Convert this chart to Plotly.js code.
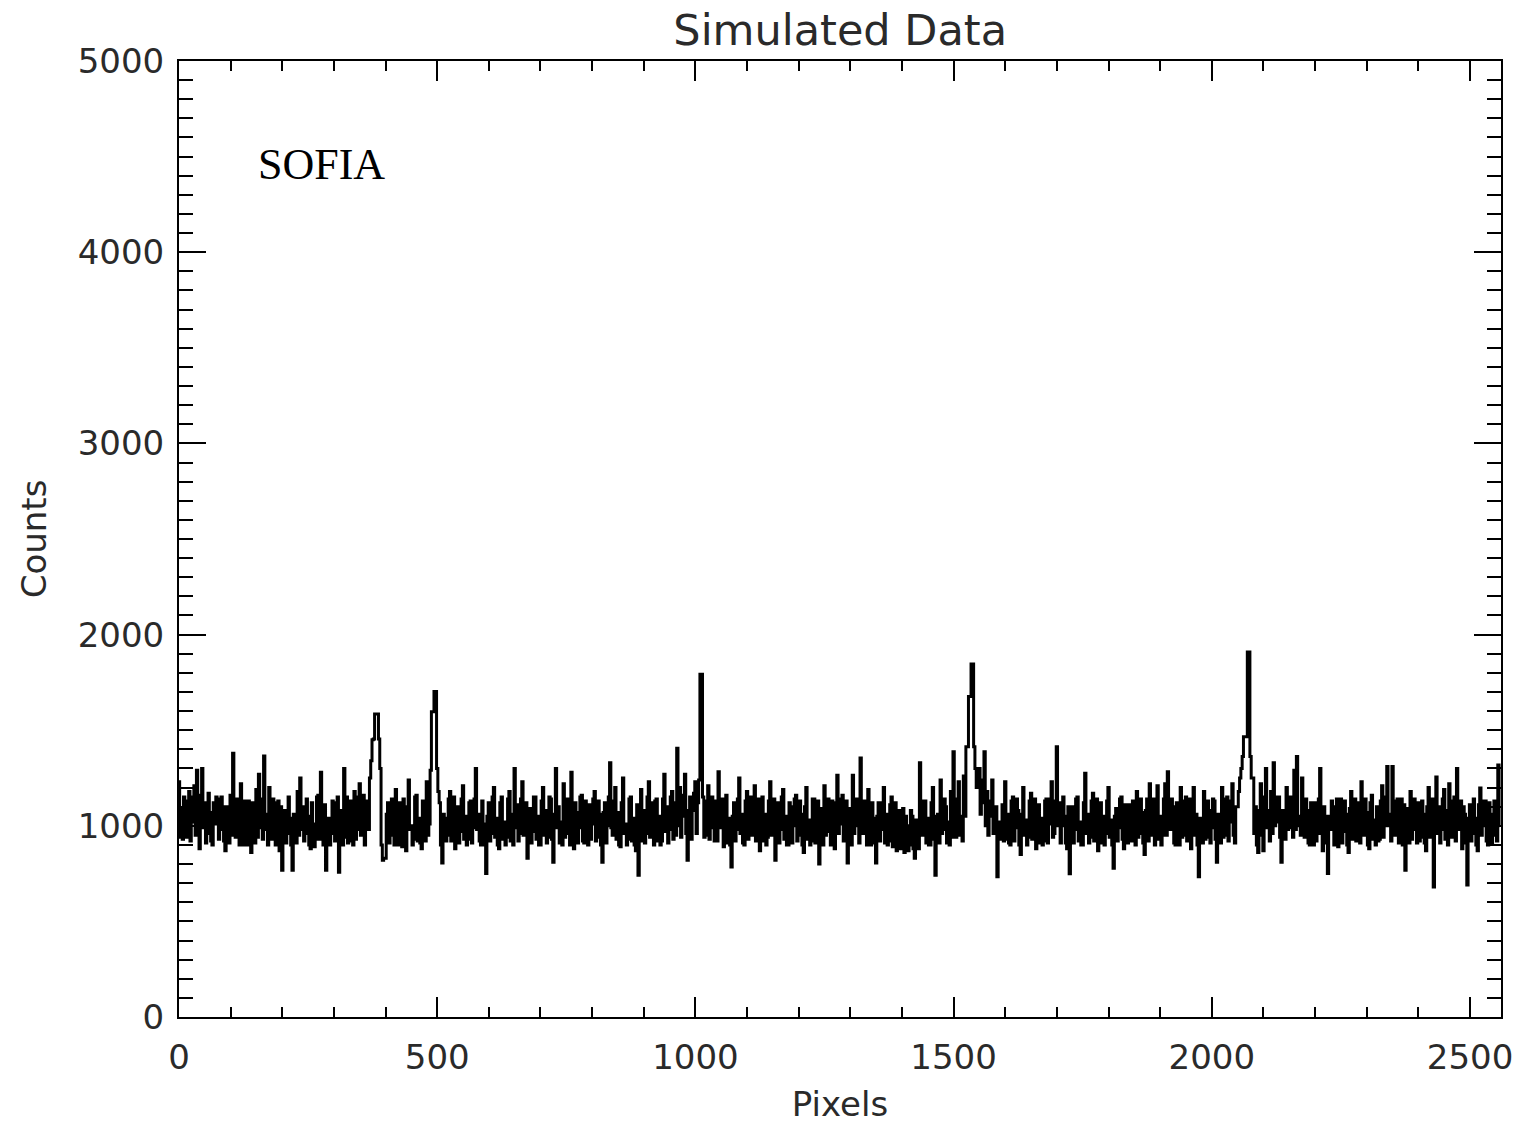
<!DOCTYPE html>
<html>
<head>
<meta charset="utf-8">
<script src="https://cdn.plot.ly/plotly-3.0.1.min.js"></script>
<style>html,body{margin:0;padding:0;background:#fff;}#chart{width:1524px;height:1124px;}</style>
</head>
<body>
<div id="chart"></div>
<script>
// Counts, one value per 2.5 detector pixels (0 .. 2557.5)
const counts = [
1230,940,1090,930,1150,960,940,1130,1180,920,1020,1150,1210,950,1290,980,880,1160,1300,990,1120,910,960,1170,1070,920,900,1120,1010,1150,1140,930,
980,1150,1100,920,870,1100,1050,910,1160,950,1380,1000,940,1140,1010,900,1220,960,900,1130,1080,900,1130,950,860,1120,1040,910,1190,940,1270,990,
1140,930,1365,980,1060,900,1200,940,930,1140,1120,900,1010,1130,870,1100,768,1050,1080,910,960,1150,1040,900,768,1060,1020,910,1180,950,1250,980,
1100,920,960,1140,1050,900,880,1120,1010,890,930,1150,1160,930,1280,980,900,1110,768,1020,1040,900,960,1130,1120,920,990,1150,757,1030,1080,900,
1300,940,1150,910,920,1130,1050,900,1180,930,980,1150,1220,950,1060,1160,900,1110,1130,980,1250,1340,1450,1454,1585,1585,1585,1454,1300,900,820,830,
830,1060,1120,910,950,1140,1060,900,1190,940,900,1120,1010,890,1140,930,870,1100,1240,980,1000,900,930,1150,1160,920,1040,910,880,1130,1090,920,
1230,950,1010,1290,1597,1597,1702,1702,1300,1180,1120,900,805,1060,1040,920,950,1140,1180,920,1010,1150,880,1100,1100,910,970,1140,1210,930,1050,900,
930,1120,1130,910,990,1140,1300,980,1060,920,900,1130,1010,900,750,1050,1120,920,960,1150,1200,940,1040,900,880,1120,1150,930,1020,900,940,1140,
1180,920,1060,900,1300,990,1110,920,960,1140,1230,950,1010,1120,830,1060,1090,910,970,1150,1150,930,1050,900,900,1130,1200,950,1080,910,940,1150,
1140,930,810,1060,1300,990,1100,910,1020,900,1220,940,960,1140,1050,900,1280,960,880,1120,1070,910,990,1150,1160,920,910,1130,1040,900,1110,930,
1010,1140,1180,920,940,1130,1060,900,810,1070,1120,910,1000,1150,1330,990,950,1130,1200,930,1070,900,890,1120,1250,960,1010,900,930,1140,1150,920,
1040,900,870,1110,742,1040,1190,920,1080,910,960,1150,1230,940,1010,1120,900,1130,1140,920,1050,900,920,1140,1270,970,1100,910,980,1150,1180,930,
1120,950,1405,1000,1200,940,1050,1160,1270,960,820,1080,1150,930,1080,1170,1230,960,1120,1240,1793,1793,1150,940,950,1130,1210,930,1060,1150,990,920,
1130,920,1283,990,1010,1140,890,1110,1160,910,1040,900,785,1050,1120,920,980,1140,1250,960,1060,910,900,1130,1180,930,1020,1150,950,1120,1210,920,
1000,1140,870,1100,1150,920,1060,900,940,1130,1230,950,1010,1140,820,1060,1120,910,980,1150,1190,930,1050,900,900,1120,1100,910,1000,1140,1160,920,
950,1130,1060,900,860,1100,1200,930,1030,900,920,1140,1140,910,1010,1130,800,1050,1090,900,1210,950,970,1140,1050,900,1130,920,880,1120,1265,960,
1010,1140,1160,920,940,1130,805,1060,1090,900,1265,960,1000,1140,1120,910,1355,980,960,1130,1070,900,1190,930,900,1120,1040,910,805,1050,1120,920,
980,1120,1200,910,1060,900,920,1110,1150,890,1010,1120,870,1080,1080,880,940,1090,860,1050,1000,870,900,1080,1050,880,830,1030,970,880,1330,960,
950,1130,1130,910,1040,900,900,1120,1200,930,742,1050,1060,910,1240,960,980,1140,1100,910,1020,900,1180,940,1387,1000,940,1140,1230,950,1050,920,
1260,1050,1414,1414,1676,1676,1846,1846,1414,1300,1200,1250,1300,1060,1120,1240,1387,1000,1180,950,1050,1130,1240,960,960,1100,733,990,1020,930,1110,920,
1230,930,1060,910,900,1130,1150,920,990,1140,1080,900,850,1060,1200,950,1030,900,940,1130,1170,930,1000,1140,880,1100,1110,910,1040,900,920,1130,
1140,910,1010,1140,1230,940,960,1130,1413,1000,1120,910,1000,1150,1050,910,880,1100,749,1060,1100,910,980,1140,1150,920,1020,900,900,1120,1275,960,
1060,910,940,1130,1170,920,1010,1140,870,1100,1120,910,1050,900,960,1130,1200,940,1030,900,778,1050,1090,920,990,1140,1150,930,880,1110,1040,910,
1110,920,920,1130,1020,900,1180,940,960,1140,1070,910,850,1080,1140,920,1220,950,1000,1140,900,1120,1210,930,1050,900,950,1140,1220,950,1283,1000,
980,1140,1100,910,900,1120,1050,900,1200,940,950,1130,1150,920,1010,1140,880,1100,1200,950,1060,900,733,1040,1020,910,1180,930,940,1130,1080,910,
990,1140,1130,930,810,1060,1060,910,1200,940,950,1140,1150,920,1020,1130,1220,950,910,1100,1100,1180,1250,1300,1362,1466,1466,1466,1909,1909,1362,1250,
1250,960,1100,900,860,1080,1220,950,870,1150,1300,990,1080,920,1180,960,1330,1000,1020,1150,1150,940,810,1080,1060,930,1200,980,990,1150,1120,940,
1290,980,1362,1000,1050,950,1250,960,940,1140,1080,910,900,1120,1010,900,1120,920,960,1140,1300,960,870,1100,1050,910,750,1050,980,1130,1100,900,
1010,1140,890,1110,1140,910,970,1130,1060,900,860,1090,1180,930,1000,1140,920,1120,1120,910,1230,950,950,1140,1070,900,880,1120,1160,930,1030,900,
1100,920,930,1130,1210,940,1000,1150,1310,1000,1060,920,1310,990,950,1130,1140,910,1020,1140,900,1110,768,1040,1090,910,1180,930,980,1140,1050,910,
1120,920,940,1130,1060,910,870,1100,1200,940,1010,1140,680,1050,1255,960,1100,910,980,1140,1190,930,1080,900,1220,950,940,1130,1150,920,1300,980,
1010,1130,880,1100,1060,910,690,1040,1110,920,960,1140,1040,900,870,1110,1198,950,1000,1130,1130,920,900,1120,1060,910,950,1130,1090,920,1318,1000
];
const binWidth = 2.5;
const pixels = counts.map((c, i) => i * binWidth);

const xTickVals = [0, 500, 1000, 1500, 2000, 2500];
const yTickVals = [0, 1000, 2000, 3000, 4000, 5000];
const titleText = 'Simulated Data';
const xTitle = 'Pixels';
const yTitle = 'Counts';
const labelText = 'SOFIA';

const axisFont = {family: 'DejaVu Sans', size: 34, color: '#2a2a2a'};

const trace = {
  x: pixels, y: counts, type: 'scatter', mode: 'lines',
  line: {color: '#000', width: 3, shape: 'hvh'},
  hoverinfo: 'skip'
};

const layout = {
  width: 1524, height: 1124,
  paper_bgcolor: '#fff', plot_bgcolor: '#fff',
  margin: {l: 179, r: 23, t: 61, b: 107, pad: 0},
  showlegend: false,
  title: {text: titleText, font: {family: 'DejaVu Sans', size: 43, color: '#2a2a2a'},
          x: 0.5513, xanchor: 'center', y: 0.973, yanchor: 'middle'},
  xaxis: {
    range: [0, 2560], tickvals: xTickVals, ticktext: xTickVals.map(String),
    showgrid: false, zeroline: false,
    showline: true, linecolor: '#000', linewidth: 2, mirror: 'ticks',
    ticks: 'inside', ticklen: 20, tickwidth: 2, tickcolor: '#000',
    minor: {dtick: 100, tick0: 0, ticks: 'inside', ticklen: 10, tickwidth: 2, tickcolor: '#000', showgrid: false},
    tickfont: axisFont, ticklabelstandoff: 9,
    title: {text: xTitle, font: axisFont, standoff: 28}
  },
  yaxis: {
    range: [0, 5000], tickvals: yTickVals, ticktext: yTickVals.map(String),
    showgrid: false, zeroline: false,
    showline: true, linecolor: '#000', linewidth: 2, mirror: 'ticks',
    ticks: 'inside', ticklen: 27, tickwidth: 2, tickcolor: '#000',
    minor: {dtick: 100, tick0: 0, ticks: 'inside', ticklen: 14, tickwidth: 2, tickcolor: '#000', showgrid: false},
    tickfont: axisFont, ticklabelstandoff: 6,
    title: {text: yTitle, font: axisFont, standoff: 21}
  },
  annotations: [{
    text: labelText, xref: 'x', yref: 'y', x: 150, y: 4460,
    xanchor: 'left', yanchor: 'middle', showarrow: false,
    font: {family: 'Liberation Serif', size: 44, color: '#000'}
  }]
};

Plotly.newPlot('chart', [trace], layout, {staticPlot: true, displayModeBar: false});
</script>
</body>
</html>
